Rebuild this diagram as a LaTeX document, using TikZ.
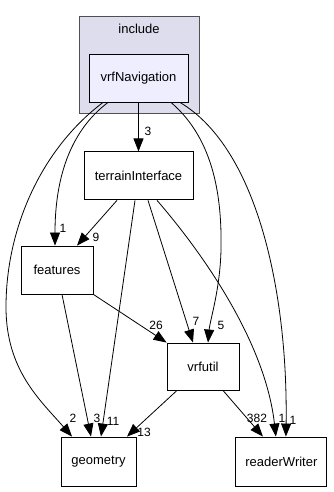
\documentclass[tikz,border=0pt]{standalone}
\usepackage{fontspec}
\setmainfont{Liberation Sans}
\usepackage{xcolor}
\usetikzlibrary{arrows.meta, positioning}
\definecolor{clusterfill}{RGB}{221,221,238}
\definecolor{clusterline}{RGB}{80,80,80}
\definecolor{navfill}{RGB}{238,238,255}

\begin{document}
\begin{tikzpicture}[
  x=1pt, y=-1pt,
  dir/.style={rectangle, draw=black, fill=white, line width=0.9pt, inner sep=0pt, minimum height=48pt, font=\fontsize{13}{15}\selectfont},
  navdir/.style={dir, fill=navfill},
  cluster/.style={rectangle, draw=clusterline, fill=clusterfill, line width=0.9pt, inner sep=0pt, minimum width=120pt, minimum height=97pt},
  arrow/.style={-{Triangle[length=13pt, width=10pt]}, line width=0.8pt},
  count/.style={font=\fontsize{12}{14}\selectfont, inner sep=0pt}
]
\useasboundingbox (0,0) rectangle (334,492);

\node[cluster] (include) at (139,64.5) {};
\node[font=\fontsize{13}{15}\selectfont] (includetitle) at (139,29) {include};
\node[navdir, minimum width=99pt] (nav) at (138.5,78) {vrfNavigation};
\node[dir, minimum width=109pt, below=49pt of nav] (terrain) {terrainInterface};
\node[dir, minimum width=72pt] (features) at (57,270) {features};
\node[dir, minimum width=72pt, minimum height=47pt] (vrfutil) at (203,366.5) {vrfutil};
\node[dir, minimum width=75pt, minimum height=49pt] (geometry) at (98.5,461.5) {geometry};
\node[dir, minimum width=91pt, minimum height=49pt, right=99pt of geometry] (readerwriter) {readerWriter};

\draw[arrow] (nav) -- (terrain);
\draw[arrow] ([xshift=-30.5pt]nav.south) .. controls (78,125) and (55,165) .. ([xshift=-2pt]features.north);
\draw[arrow] ([xshift=-35.5pt]nav.south) .. controls (40,150) and (6,230) .. (6,307) .. controls (6,370) and (40,400) .. ([xshift=-26.5pt]geometry.north);
\draw[arrow] ([xshift=32.5pt]nav.south) .. controls (215,140) and (222,200) .. (221,250) .. controls (220,290) and (210,320) .. ([xshift=5pt]vrfutil.north);
\draw[arrow] ([xshift=41.5pt]nav.south) .. controls (260,150) and (288,300) .. ([xshift=4.5pt]readerwriter.north);
\draw[arrow] ([xshift=-21.5pt]terrain.south) -- ([xshift=20pt]features.north);
\draw[arrow] ([xshift=-3.5pt]terrain.south) -- ([xshift=2.5pt]geometry.north);
\draw[arrow] ([xshift=9.5pt]terrain.south) -- ([xshift=-10pt]vrfutil.north);
\draw[arrow] ([xshift=18.5pt]terrain.south) .. controls (200,250) and (265,340) .. ([xshift=-5.5pt]readerwriter.north);
\draw[arrow] ([xshift=5pt]features.south) -- ([xshift=-7.5pt]geometry.north);
\draw[arrow] (features.south east) -- (vrfutil.north west);
\draw[arrow] ([xshift=-26pt]vrfutil.south) -- ([xshift=28.5pt]geometry.north);
\draw[arrow] ([xshift=20pt]vrfutil.south) -- ([xshift=-18.5pt]readerwriter.north);

% edge counts
\node[count] (cnavterrain) at (148,131) {3};
\node[count] (cnavfeatures) at (63,228) {1};
\node[count] (cterrainfeatures) at (96,237) {9};
\node[count] (cfeaturesvrfutil) at (156,325) {26};
\node[count] (cterrainvrfutil) at (196,321) {7};
\node[count] (cnavvrfutil) at (221,325) {5};
\node[count] (cnavgeometry) at (73,418) {2};
\node[count] (cfeaturesgeometry) at (97,418) {3};
\node[count] (cterraingeometry) at (113,421) {11};
\node[count] (cvrfutilgeometry) at (144,432) {13};
\node[count] (cvrfutilreader) at (257,418) {382};
\node[count] (cterrainreader) at (282,418) {1};
\node[count] (cnavreader) at (293,420) {1};
\end{tikzpicture}
\end{document}
